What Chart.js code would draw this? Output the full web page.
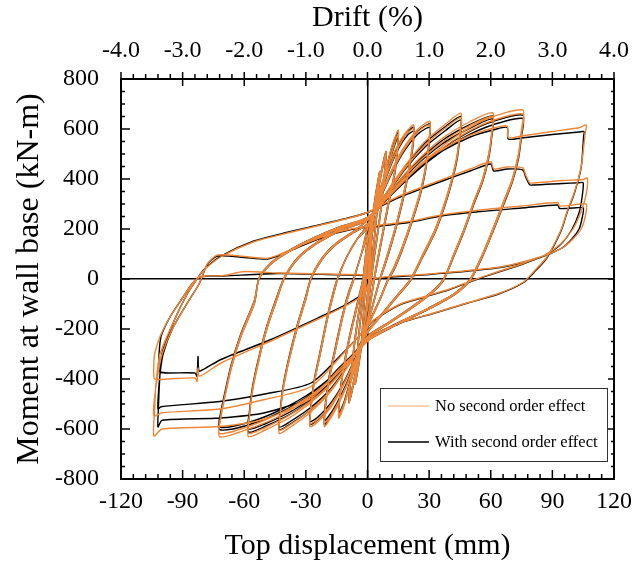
<!DOCTYPE html>
<html>
<head>
<meta charset="utf-8">
<script src="https://cdn.jsdelivr.net/npm/chart.js@4"></script>
<style>
  body { margin: 0; background: #fff; }
  #wrap { width: 638px; height: 565px; }
</style>
</head>
<body>
<div id="wrap"><canvas id="hyst" width="638" height="565"></canvas></div>
<script>
// tick labels
const dispTicks = [-120, -90, -60, -30, 0, 30, 60, 90, 120];
const driftTicks = [-4, -3, -2, -1, 0, 1, 2, 3, 4];
const momentTicks = [-800, -600, -400, -200, 0, 200, 400, 600, 800];

// [top displacement (mm), moment (kN-m)]
// small cycles: both curves coincide here
const s3 = [[0,0],[1,100],[2,200],[3,290],[2.4,200],[1.2,60],[0,-60],[-1.5,-180],[-3,-280],[-2.4,-190],[-1.2,-50],[0,70],[1.5,190],[3,285],[2.3,190],[1,40],[0,-70],[-1.5,-180],[-3,-275],[-2.3,-180],[-1,-30]];
const s6 = [[0,90],[2,220],[4,340],[6,430],[5.2,330],[3.5,180],[1.5,40],[0,-80],[-2,-210],[-4,-330],[-6,-420],[-5.2,-320],[-3.5,-170],[-1.5,-30],[0,90],[2,200],[4,330],[6,420],[5.2,320],[3.5,170],[1.5,30],[0,-90],[-2,-210],[-4,-320],[-6,-410],[-5.2,-310],[-3.5,-160],[-1.5,-20]];
const s9 = [[0,110],[3,250],[6,400],[9,510],[8,400],[6,250],[3,80],[0,-110],[-3,-250],[-6,-390],[-9,-495],[-8,-390],[-6,-240],[-3,-70],[0,100],[3,240],[6,390],[9,500],[8,390],[6,240],[3,70],[0,-120],[-3,-250],[-6,-380],[-9,-485],[-8,-380],[-6,-230],[-3,-60]];

// no second order effect
const o15 = [[0,150],[4,280],[8,410],[12,535],[15,596],[14.5,520],[13,420],[10,300],[7,170],[4,40],[2,-60],[0,-160],[-4,-290],[-8,-410],[-11.5,-510],[-14,-556],[-13.5,-480],[-12,-380],[-9,-250],[-5,-110],[-2,0],[0,100],[4,240],[8,380],[12,510],[15,580],[14.5,505],[13,410],[10,290],[7,160],[4,30],[2,-70],[0,-170],[-4,-290],[-8,-400],[-11.5,-500],[-14,-545],[-13.5,-470],[-12,-370],[-9,-240],[-5,-100],[-2,10]];
const o22 = [[0,160],[5,330],[10,450],[15,540],[19.5,595],[22.5,616],[22,545],[20,440],[17,320],[13,190],[9,80],[6,0],[3,-90],[0,-180],[-5,-310],[-10,-425],[-15,-515],[-19,-570],[-21,-590],[-20.5,-520],[-19,-420],[-16,-300],[-12,-150],[-9,-60],[-6.6,0],[-3,100],[0,170],[5,310],[10,430],[15,525],[19.5,585],[22.5,600],[22,530],[20,430],[17,310],[13,180],[9,70],[6,-5],[3,-95],[0,-185],[-5,-310],[-10,-420],[-15,-505],[-19,-560],[-21,-575],[-20.5,-505],[-19,-410],[-16,-290],[-12,-140],[-9,-50],[-6.6,5],[-3,100]];
const o30 = [[0,200],[6,330],[12,440],[18,530],[24,595],[28,622],[30.5,630],[30,560],[28.5,460],[26,360],[22,250],[17,130],[13,50],[10,0],[6,-80],[0,-190],[-6,-320],[-12,-430],[-18,-515],[-24,-570],[-28,-591],[-27.5,-520],[-26,-420],[-23,-300],[-19.5,-160],[-16.5,-60],[-14.5,0],[-10,90],[-5,160],[0,205],[6,320],[12,430],[18,520],[24,585],[28,610],[30.5,615],[30,545],[28.5,450],[26,350],[22,240],[17,120],[13,40],[10,-5],[6,-85],[0,-195],[-6,-320],[-12,-425],[-18,-505],[-24,-560],[-28,-578],[-27.5,-510],[-26,-410],[-23,-290],[-19.5,-150],[-16.5,-50],[-14.5,5],[-10,90],[-5,160]];
const o45 = [[0,215],[8,330],[18,450],[28,550],[38,620],[45.5,663],[45,590],[43.5,490],[41,400],[38,316],[33,200],[27,100],[21,0],[15,-60],[8,-130],[0,-210],[-8,-330],[-18,-450],[-28,-535],[-38,-595],[-43,-618],[-42.5,-545],[-41,-440],[-38,-320],[-34,-190],[-30,-80],[-27.5,0],[-22,80],[-15,140],[-7,185],[0,220],[8,320],[18,440],[28,535],[38,605],[45.5,645],[45,575],[43.5,480],[41,390],[38,306],[33,190],[27,92],[21,-5],[15,-65],[8,-135],[0,-215],[-8,-330],[-18,-445],[-28,-525],[-38,-585],[-43,-605],[-42.5,-535],[-41,-430],[-38,-310],[-34,-180],[-30,-70],[-27.5,5],[-22,85],[-15,145],[-7,190]];
const o60 = [[0,235],[10,340],[22,455],[36,560],[50,630],[61,665],[60.5,590],[59,500],[56,400],[52,316],[47,200],[42,100],[37,0],[30,-60],[20,-120],[10,-175],[0,-230],[-10,-345],[-22,-455],[-36,-545],[-50,-605],[-58,-631],[-57.5,-555],[-56,-450],[-53,-330],[-49,-200],[-44,-80],[-40.6,0],[-34,80],[-25,140],[-13,195],[0,235],[10,330],[22,445],[36,545],[50,615],[61,650],[60.5,578],[59,490],[56,392],[52,308],[47,192],[42,92],[37,-5],[30,-65],[20,-125],[10,-180],[0,-235],[-10,-345],[-22,-450],[-36,-535],[-50,-595],[-58,-618],[-57.5,-545],[-56,-440],[-53,-320],[-49,-190],[-44,-70],[-40.6,5],[-34,85],[-25,145],[-13,200]];
const o75 = [[0,240],[12,350],[26,460],[42,565],[58,640],[75.6,676],[75,600],[73.5,500],[70.5,400],[66.5,316],[61,200],[56,100],[50,0],[42,-60],[30,-115],[15,-175],[0,-240],[-12,-355],[-26,-460],[-42,-545],[-58,-600],[-72,-631],[-71.5,-560],[-70,-496],[-66.5,-364],[-61.6,-231],[-55,-96],[-52.8,0],[-47,60],[-38,110],[-26,160],[-13,205],[0,245],[12,345],[26,455],[42,555],[58,625],[75.6,660],[75,585],[73.5,490],[70.5,392],[66.5,306],[61,190],[56,92],[50,-5],[42,-65],[30,-120],[15,-180],[0,-245],[-12,-355],[-26,-455],[-42,-535],[-58,-590],[-72,-618],[-71.5,-550],[-70,-486],[-66.5,-354],[-61.6,-221],[-55,-86],[-52.8,5],[-47,65],[-38,115],[-26,165],[-13,210]];
const o105a = [[0,248],[14,360],[25,450],[36,516],[50,575],[62,605],[68,612],[68.5,566],[75,572],[90,590],[103,605],[106.5,616],[106,584],[104,449],[100.6,344],[97.4,276],[94.2,196],[87.3,88],[81,30],[76,-12],[64.5,-56],[48.4,-96],[32.4,-136],[15.8,-176],[3,-232],[0,-250],[-14,-362],[-27.5,-478],[-50,-560],[-72,-590],[-100,-600],[-104,-628],[-103.6,-520],[-103,-420],[-101,-300],[-94,-164],[-87.5,-56],[-82.7,4],[-79.6,36],[-71.3,89],[-55.3,149],[-38.9,184],[-22.6,216],[-6.6,249],[0.7,269]];
const o105b = [[15,330],[35.8,396],[50,440],[60,469],[61.5,440],[68,448],[75.6,444],[77,416],[79,385],[81,384],[95,394],[105,398],[107,404],[106.5,340],[104,270],[100,200],[94,140],[86,95],[75,60],[62,25],[53,0],[40,-40],[28,-70],[16,-100],[3,-164],[0,-190],[-12,-300],[-27.5,-430],[-50,-482],[-72,-520],[-100,-535],[-104,-548],[-103.6,-470],[-102,-380],[-100,-300],[-95,-200],[-88,-100],[-82,-20],[-78,60],[-73,96],[-60,90],[-48.6,83],[-40,108],[-34,129],[-20,175],[-8,200],[0,210]];
const o105c = [[2,212],[20,230],[35.8,256],[55,276],[75,292],[92.6,306],[93.5,292],[100,296],[106.5,300],[106,250],[104,200],[100,160],[95,125],[84,88],[64.5,48],[30,20],[4.6,4],[0,-25],[-1,-56],[-10,-105],[-22.6,-155],[-47,-248],[-71.3,-336],[-79.5,-380],[-82,-388],[-82.5,-356],[-83,-410],[-84,-396],[-97,-400],[-103,-402],[-104,-395],[-104,-336],[-103.6,-300],[-101,-230],[-96,-150],[-90,-75],[-85,-15],[-81,9],[-70,14],[-60,30],[-43.7,24],[-20,20],[0,16]];

// with second order effect
const k15 = [[0,150],[4,280],[8,405],[12,530],[15,588],[14.5,515],[13,418],[10,298],[7,168],[4,38],[2,-60],[0,-158],[-4,-286],[-8,-405],[-11.5,-503],[-14,-548],[-13.5,-476],[-12,-378],[-9,-248],[-5,-108],[-2,0],[0,102],[4,240],[8,376],[12,505],[15,572],[14.5,500],[13,406],[10,288],[7,158],[4,30],[2,-68],[0,-166],[-4,-286],[-8,-396],[-11.5,-494],[-14,-538],[-13.5,-466],[-12,-368],[-9,-238],[-5,-98],[-2,10]];
const k22 = [[0,160],[5,328],[10,446],[15,535],[19.5,588],[22.5,607],[22,538],[20,436],[17,318],[13,188],[9,78],[6,0],[3,-90],[0,-178],[-5,-306],[-10,-420],[-15,-508],[-19,-562],[-21,-582],[-20.5,-514],[-19,-416],[-16,-298],[-12,-148],[-9,-58],[-6.6,0],[-3,100],[0,170],[5,308],[10,426],[15,520],[19.5,576],[22.5,590],[22,524],[20,426],[17,306],[13,178],[9,68],[6,-5],[3,-94],[0,-182],[-5,-306],[-10,-414],[-15,-498],[-19,-550],[-21,-566],[-20.5,-498],[-19,-404],[-16,-286],[-12,-138],[-9,-48],[-6.6,5],[-3,100]];
const k30 = [[0,200],[6,328],[12,436],[18,525],[24,588],[28,613],[30.5,620],[30,552],[28.5,455],[26,356],[22,247],[17,128],[13,48],[10,0],[6,-80],[0,-188],[-6,-316],[-12,-424],[-18,-508],[-24,-561],[-28,-582],[-27.5,-514],[-26,-416],[-23,-298],[-19.5,-158],[-16.5,-58],[-14.5,0],[-10,90],[-5,160],[0,204],[6,318],[12,426],[18,514],[24,576],[28,600],[30.5,606],[30,538],[28.5,445],[26,346],[22,237],[17,118],[13,38],[10,-5],[6,-84],[0,-192],[-6,-316],[-12,-420],[-18,-498],[-24,-551],[-28,-570],[-27.5,-504],[-26,-406],[-23,-288],[-19.5,-148],[-16.5,-48],[-14.5,5],[-10,90],[-5,160]];
const k45 = [[0,215],[8,328],[18,446],[28,544],[38,610],[45.5,650],[45,580],[43.5,484],[41,396],[38,312],[33,198],[27,98],[21,0],[15,-60],[8,-130],[0,-208],[-8,-326],[-18,-444],[-28,-526],[-38,-582],[-43,-603],[-42.5,-534],[-41,-434],[-38,-316],[-34,-188],[-30,-78],[-27.5,0],[-22,80],[-15,140],[-7,185],[0,220],[8,318],[18,436],[28,528],[38,594],[45.5,636],[45,566],[43.5,474],[41,386],[38,302],[33,188],[27,90],[21,-5],[15,-65],[8,-134],[0,-213],[-8,-326],[-18,-440],[-28,-516],[-38,-572],[-43,-592],[-42.5,-525],[-41,-425],[-38,-306],[-34,-178],[-30,-68],[-27.5,5],[-22,85],[-15,145],[-7,190]];
const k60 = [[0,235],[10,338],[22,450],[36,552],[50,618],[61,652],[60.5,580],[59,494],[56,396],[52,312],[47,198],[42,98],[37,0],[30,-60],[20,-120],[10,-175],[0,-228],[-10,-341],[-22,-448],[-36,-533],[-50,-590],[-58,-612],[-57.5,-542],[-56,-442],[-53,-326],[-49,-198],[-44,-78],[-40.6,0],[-34,80],[-25,140],[-13,195],[0,235],[10,328],[22,440],[36,538],[50,604],[61,640],[60.5,570],[59,484],[56,388],[52,304],[47,190],[42,90],[37,-5],[30,-65],[20,-125],[10,-180],[0,-233],[-10,-341],[-22,-444],[-36,-524],[-50,-580],[-58,-600],[-57.5,-532],[-56,-432],[-53,-316],[-49,-188],[-44,-68],[-40.6,5],[-34,85],[-25,145],[-13,200]];
const k75 = [[0,240],[12,346],[26,452],[42,552],[58,622],[75.6,656],[75,586],[73.5,492],[70.5,396],[66.5,312],[61,198],[56,98],[50,0],[42,-60],[30,-115],[15,-175],[0,-238],[-12,-350],[-26,-452],[-42,-532],[-58,-584],[-72,-603],[-71.5,-545],[-70,-486],[-66.5,-358],[-61.6,-228],[-55,-95],[-52.8,0],[-47,60],[-38,110],[-26,160],[-13,205],[0,245],[12,340],[26,446],[42,542],[58,608],[75.6,642],[75,574],[73.5,482],[70.5,388],[66.5,302],[61,188],[56,90],[50,-5],[42,-65],[30,-120],[15,-180],[0,-243],[-12,-350],[-26,-446],[-42,-522],[-58,-574],[-72,-592],[-71.5,-535],[-70,-476],[-66.5,-348],[-61.6,-218],[-55,-85],[-52.8,5],[-47,65],[-38,115],[-26,165],[-13,210]];
const k105a = [[0,246],[14,356],[25,446],[36,510],[50,568],[62,598],[68,606],[68.5,560],[75,564],[90,578],[103,588],[105.4,590],[105.2,570],[104,445],[100.6,340],[97.4,272],[94.2,192],[87.3,84],[81,26],[76,-14],[64.5,-58],[48.4,-97],[32.4,-137],[15.8,-177],[3,-232],[0,-248],[-14,-356],[-27.5,-471],[-50,-535],[-72,-556],[-100,-565],[-102,-592],[-101.8,-520],[-101.3,-420],[-100,-296],[-94,-164],[-87.5,-56],[-82.7,4],[-79.6,38],[-71.3,92],[-55.3,152],[-38.9,187],[-22.6,218],[-6.6,250],[0.7,268]];
const k105b = [[15,325],[35.8,390],[50,432],[60,460],[61.5,432],[68,440],[75.6,436],[77,408],[79,377],[81,376],[95,382],[103,385],[105,385],[104.5,330],[103,265],[99.5,198],[94,138],[86,93],[75,58],[62,23],[53,-2],[40,-42],[28,-72],[16,-102],[3,-166],[0,-192],[-12,-296],[-27.5,-416],[-50,-460],[-72,-490],[-100.5,-511],[-102,-520],[-101.8,-460],[-101,-380],[-99.5,-300],[-95,-200],[-88,-100],[-82,-20],[-78,58],[-73,92],[-60,86],[-48.6,80],[-40,104],[-34,126],[-20,172],[-8,198],[0,208]];
const k105c = [[2,208],[20,226],[35.8,252],[55,270],[75,284],[92.6,296],[93.5,282],[100,284],[105,285],[104.5,245],[103,200],[99.5,160],[94.5,123],[84,86],[64.5,46],[30,18],[4.6,2],[0,-22],[-1,-50],[-10,-100],[-22.6,-150],[-47,-242],[-71.3,-322],[-79.5,-360],[-82,-368],[-82.5,-310],[-83,-390],[-84,-376],[-97,-376],[-101,-372],[-101.5,-360],[-101.5,-304],[-100.5,-230],[-96,-150],[-90,-75],[-85,-15],[-81,9],[-70,12],[-43.7,22],[-20,18],[0,14]];

const toXY = arr => arr.map(p => ({ x: p[0], y: p[1] }));
const noSecond = toXY([].concat(s3, s6, s9, o15, o22, o30, o45, o60, o75, o105a, o105b, o105c));
const withSecond = toXY([].concat(s3, s6, s9, k15, k22, k30, k45, k60, k75, k105a, k105b, k105c));

const serif = 'Liberation Serif';
const zeroLine = c => (c.tick && c.tick.value === 0) ? '#000' : 'rgba(0,0,0,0)';
// keep the plot box fixed, labels may hang over the edges
const noOverhang = s => { s.paddingLeft = 0; s.paddingRight = 0; };

// inward/outward tick marks incl. minor ones
const tickMarks = {
  id: 'tickMarks',
  afterDraw(chart) {
    const { ctx, chartArea: a, scales } = chart;
    ctx.save();
    ctx.strokeStyle = '#000';
    ctx.lineWidth = 1.5;
    const seg = (x1, y1, x2, y2) => { ctx.beginPath(); ctx.moveTo(x1, y1); ctx.lineTo(x2, y2); ctx.stroke(); };
    for (let v = -120; v <= 120; v += 6) {
      const px = scales.x.getPixelForValue(v);
      seg(px, a.bottom, px, a.bottom - (v % 30 === 0 ? 9 : 5));
    }
    for (let i = -20; i <= 20; i++) {
      const px = scales.x2.getPixelForValue(i / 5);
      const major = i % 5 === 0;
      seg(px, a.top - (major ? 7 : 5), px, a.top + (major ? 7 : 0));
    }
    for (let v = -800; v <= 800; v += 50) {
      const py = scales.y.getPixelForValue(v);
      const major = v % 200 === 0;
      seg(a.left, py, a.left + (major ? 9 : 4), py);
      seg(a.right, py, a.right - (major ? 6 : 3), py);
    }
    ctx.restore();
  }
};

const boxLegend = {
  id: 'boxLegend',
  afterDraw(chart) {
    const { ctx, chartArea: a } = chart;
    const x0 = a.right - 234, y0 = a.bottom - 91, w = 227, h = 73;
    ctx.save();
    ctx.fillStyle = '#fff';
    ctx.fillRect(x0, y0, w, h);
    ctx.strokeStyle = '#333';
    ctx.lineWidth = 1;
    ctx.strokeRect(x0 + 0.5, y0 + 0.5, w, h);
    ctx.font = '16.5px "' + serif + '"';
    ctx.textBaseline = 'middle';
    ctx.fillStyle = '#000';
    const rows = [['No second order effect', '#f4a46a', 1, 18], ['With second order effect', '#000', 1.6, 54]];
    rows.forEach(([label, col, lw, dy]) => {
      ctx.strokeStyle = col;
      ctx.lineWidth = lw;
      ctx.beginPath(); ctx.moveTo(x0 + 8, y0 + dy); ctx.lineTo(x0 + 49, y0 + dy); ctx.stroke();
      ctx.fillText(label, x0 + 55, y0 + dy + 1);
    });
    ctx.restore();
  }
};

new Chart(document.getElementById('hyst'), {
  type: 'scatter',
  data: {
    datasets: [
      { label: 'No second order effect', data: noSecond, xAxisID: 'x', yAxisID: 'y',
        showLine: true, borderColor: '#ee8638', borderWidth: 1.4, pointRadius: 0, tension: 0.25, fill: false },
      { label: 'With second order effect', data: withSecond, xAxisID: 'x', yAxisID: 'y',
        showLine: true, borderColor: '#000', borderWidth: 1.4, pointRadius: 0, tension: 0.25, fill: false }
    ]
  },
  options: {
    responsive: false,
    animation: false,
    layout: { padding: 0 },
    plugins: { legend: { display: false }, tooltip: { enabled: false } },
    scales: {
      x: {
        type: 'linear', position: 'bottom', min: -120, max: 120,
        afterBuildTicks: s => { s.ticks = dispTicks.map(v => ({ value: v })); },
        afterFit: s => { s.height = 86; noOverhang(s); },
        ticks: { color: '#000', font: { family: serif, size: 24 }, padding: 8, maxRotation: 0 },
        grid: { drawTicks: false, color: zeroLine, lineWidth: 1.5 },
        border: { color: '#000', width: 2 },
        title: { display: true, text: 'Top displacement (mm)', color: '#000', font: { family: serif, size: 30 }, padding: { top: 0, bottom: 1 } }
      },
      x2: {
        type: 'linear', position: 'top', min: -4, max: 4,
        afterBuildTicks: s => { s.ticks = driftTicks.map(v => ({ value: v })); },
        afterFit: s => { s.height = 79; noOverhang(s); },
        ticks: { color: '#000', font: { family: serif, size: 24 }, padding: 14, maxRotation: 0, callback: v => v.toFixed(1) },
        grid: { display: false, drawTicks: false },
        border: { color: '#000', width: 2 },
        title: { display: true, text: 'Drift (%)', color: '#000', font: { family: serif, size: 30 }, padding: 0 }
      },
      y: {
        type: 'linear', position: 'left', min: -800, max: 800,
        afterBuildTicks: s => { s.ticks = momentTicks.map(v => ({ value: v })); },
        afterFit: s => { s.width = 121; },
        ticks: { color: '#000', font: { family: serif, size: 24 }, padding: 22 },
        grid: { drawTicks: false, color: zeroLine, lineWidth: 1.5 },
        border: { color: '#000', width: 2 },
        title: { display: true, text: 'Moment at wall base (kN-m)', color: '#000', font: { family: serif, size: 32 }, padding: { top: 10, bottom: 0 } }
      },
      y2: {
        type: 'linear', position: 'right', min: -800, max: 800,
        afterFit: s => { s.width = 24; },
        ticks: { display: false },
        grid: { display: false, drawTicks: false },
        border: { color: '#000', width: 2 }
      }
    }
  },
  plugins: [tickMarks, boxLegend]
});
</script>
</body>
</html>
